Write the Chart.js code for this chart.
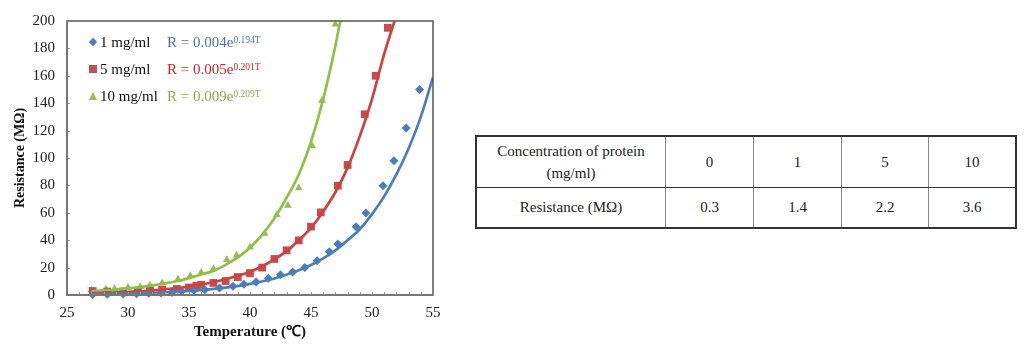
<!DOCTYPE html>
<html>
<head>
<meta charset="utf-8">
<script src="https://cdn.jsdelivr.net/npm/chart.js@4.4.1/dist/chart.umd.min.js"></script>
<style>
    body { margin: 0; background: #fff; width: 1024px; height: 349px; position: relative; overflow: hidden; font-family: "Liberation Serif", "Times New Roman", serif; }
    #chartBox { position: absolute; left: 0; top: 0; width: 450px; height: 349px; }
    .legendRow { position: absolute; left: 89px; height: 20px; line-height: 20px; font-size: 15px; color: #111; white-space: nowrap; }
    .legendRow .mk { position: absolute; left: 0; top: 6px; }
    .legendRow .lbl { position: absolute; left: 11px; top: 0; }
    .legendRow .eq { position: absolute; left: 78px; top: 0; font-size: 15px; }
    .legendRow .eq sup { font-size: 9.5px; vertical-align: 4px; line-height: 0; }
    .dia { width: 6px; height: 6px; background: #4a7ebb; transform: rotate(45deg); margin-left: 1px; margin-top: 1px; }
    .sq { width: 8px; height: 8px; background: #c0504d; }
    .tri { width: 0; height: 0; border-left: 4.5px solid transparent; border-right: 4.5px solid transparent; border-bottom: 8px solid #9bbb59; }
    #dataTable { position: absolute; left: 475px; top: 135px; border-collapse: collapse; font-size: 15px; color: #222; }
    #dataTable td { text-align: center; border: 1px solid #888; padding: 0; }
    #dataTable { border: 2px solid #333; }
    #dataTable tr.r1 td { height: 50px; line-height: 22px; border-bottom: 1.5px solid #333; }
    #dataTable tr.r2 td { height: 39px; }
</style>
</head>
<body>
<div id="chartBox">
    <canvas id="resChart" width="450" height="349"></canvas>
</div>

<div class="legendRow" style="top: 32px;"><div class="mk dia"></div><span class="lbl">1 mg/ml</span><span class="eq" style="color:#4f73a6;">R = 0.004e<sup>0.194T</sup></span></div>
<div class="legendRow" style="top: 59px;"><div class="mk sq"></div><span class="lbl">5 mg/ml</span><span class="eq" style="color:#cc2630;">R = 0.005e<sup>0.201T</sup></span></div>
<div class="legendRow" style="top: 86px;"><div class="mk tri"></div><span class="lbl">10 mg/ml</span><span class="eq" style="color:#93a550;">R = 0.009e<sup>0.209T</sup></span></div>

<table id="dataTable">
    <tr class="r1">
        <td style="width:188px;">Concentration of protein<br>(mg/ml)</td>
        <td style="width:87px;" id="c0"></td>
        <td style="width:87px;" id="c1"></td>
        <td style="width:86px;" id="c2"></td>
        <td style="width:86px;" id="c3"></td>
    </tr>
    <tr class="r2">
        <td>Resistance (MΩ)</td>
        <td id="v0"></td>
        <td id="v1"></td>
        <td id="v2"></td>
        <td id="v3"></td>
    </tr>
</table>

<script>
// measured points (temperature in °C, resistance in MΩ)
const tempBlue = [27.1, 28.3, 29.6, 30.7, 31.7, 32.7, 33.6, 34.4, 35.4, 36.3, 37.5, 38.6, 39.5, 40.5, 41.5, 42.5, 43.5, 44.5, 45.5, 46.5, 47.2, 48.7, 49.5, 50.9, 51.8, 52.8, 53.9];
const resBlue = [0.3, 0.5, 0.7, 0.9, 1.2, 1.5, 1.9, 2.7, 3.4, 3.9, 5.1, 6.3, 7.8, 9.5, 12.2, 14.8, 16.8, 20, 25, 31.6, 37.2, 49.9, 59.9, 79.8, 98, 121.9, 150];

const tempRed = [27.1, 28.3, 29.6, 30.8, 31.8, 32.8, 34.0, 35.0, 35.6, 36.0, 37.0, 38.0, 39.0, 40.0, 41.0, 42.0, 43.0, 44.0, 45.0, 45.8, 47.2, 48.0, 49.4, 50.3, 51.3];
const resRed = [2.9, 2.5, 2.6, 3.0, 3.4, 3.9, 4.4, 5.5, 6.8, 7.5, 8.8, 10.2, 13.1, 16.0, 20.0, 26.3, 32.6, 39.9, 49.9, 60.3, 79.8, 94.9, 131.9, 160, 195];

const tempGreen = [27.0, 28.2, 28.9, 30.0, 31.0, 31.8, 32.8, 34.1, 35.1, 36.0, 37.0, 38.1, 38.9, 40.0, 41.2, 42.2, 43.1, 44.0, 45.1, 45.9, 47.0];
const resGreen = [3.4, 4.2, 4.5, 5.4, 6.0, 7.1, 8.8, 11.5, 14.0, 16.5, 19.2, 25.8, 29, 34.8, 44.8, 58.6, 65.4, 78.1, 108.8, 142, 197.6];

// trend curves
const fitTempBlue = [27, 30, 33, 36, 38, 40, 42, 44, 45, 46, 47, 48, 49, 50, 51, 52, 53, 54, 55];
const fitResBlue = [0.6, 1.1, 2.0, 3.6, 5.4, 8.1, 12, 18, 21.9, 26.7, 32.6, 40, 48, 59, 72, 88, 107, 130, 159];

const fitTempRed = [27, 30, 33, 35, 37, 39, 40, 41, 42, 43, 44, 45, 46, 47, 48, 49, 50, 51, 51.85];
const fitResRed = [1.3, 2.3, 4.2, 6.2, 9.3, 14, 17, 21, 26, 32, 40, 49, 61, 75, 93, 116, 143, 176, 200];

const fitTempGreen = [27, 30, 32, 34, 36, 37, 38, 39, 40, 41, 42, 43, 44, 45, 46, 47, 47.4];
const fitResGreen = [2.7, 4.8, 7, 10, 15, 17.5, 22, 27.5, 34.5, 44, 56, 71, 88, 112, 143, 182, 200];

// table
const concentrations = ['0', '1', '5', '10'];
const resistances = ['0.3', '1.4', '2.2', '3.6'];

concentrations.forEach((c, i) => { document.getElementById('c' + i).textContent = c; });
resistances.forEach((r, i) => { document.getElementById('v' + i).textContent = r; });

const toPoints = (xs, ys) => xs.map((x, i) => ({ x: x, y: ys[i] }));

const blue = '#4a7ebb';
const red = '#c0504d';
const green = '#9bbb59';

// frame + small inside ticks like the original plot
const framePlugin = {
    id: 'frame',
    afterDraw(chart) {
        const { ctx, chartArea: a, scales } = chart;
        ctx.save();
        ctx.strokeStyle = '#999';
        ctx.lineWidth = 1;
        for (let t = 26; t < 55; t++) {
            const px = Math.round(scales.x.getPixelForValue(t)) + 0.5;
            ctx.beginPath();
            ctx.moveTo(px, a.bottom);
            ctx.lineTo(px, a.bottom - 3);
            ctx.stroke();
        }
        for (let v = 20; v < 200; v += 20) {
            const py = Math.round(scales.y.getPixelForValue(v)) + 0.5;
            ctx.beginPath();
            ctx.moveTo(a.left, py);
            ctx.lineTo(a.left + 3, py);
            ctx.stroke();
        }
        ctx.strokeStyle = '#555';
        ctx.lineWidth = 1.5;
        ctx.strokeRect(a.left, a.top, a.right - a.left, a.bottom - a.top);
        ctx.strokeStyle = '#777';
        ctx.lineWidth = 2;
        ctx.beginPath();
        ctx.moveTo(a.left, a.top);
        ctx.lineTo(a.left, a.bottom);
        ctx.lineTo(a.right, a.bottom);
        ctx.stroke();
        ctx.restore();
    }
};

new Chart(document.getElementById('resChart'), {
    type: 'scatter',
    data: {
        datasets: [
            { label: '1 mg/ml', data: toPoints(tempBlue, resBlue), pointStyle: 'rectRot', pointRadius: 4.5, backgroundColor: blue, borderColor: blue, borderWidth: 0, order: 2, clip: false },
            { label: '5 mg/ml', data: toPoints(tempRed, resRed), pointStyle: 'rect', pointRadius: 5.5, backgroundColor: red, borderColor: red, borderWidth: 0, order: 2, clip: false },
            { label: '10 mg/ml', data: toPoints(tempGreen, resGreen), pointStyle: 'triangle', pointRadius: 4.5, backgroundColor: green, borderColor: green, borderWidth: 0, order: 2, clip: false },
            { label: 'fit 1', data: toPoints(fitTempBlue, fitResBlue), showLine: true, pointRadius: 0, borderColor: blue, borderWidth: 2.7, cubicInterpolationMode: 'monotone', order: 1 },
            { label: 'fit 5', data: toPoints(fitTempRed, fitResRed), showLine: true, pointRadius: 0, borderColor: '#d04040', borderWidth: 2.7, cubicInterpolationMode: 'monotone', order: 1 },
            { label: 'fit 10', data: toPoints(fitTempGreen, fitResGreen), showLine: true, pointRadius: 0, borderColor: '#8fc046', borderWidth: 2.7, cubicInterpolationMode: 'monotone', order: 1 }
        ]
    },
    options: {
        responsive: false,
        animation: false,
        layout: { padding: { top: 21, right: 17, left: 0, bottom: 0 } },
        plugins: {
            legend: { display: false },
            tooltip: { enabled: false }
        },
        scales: {
            x: {
                type: 'linear',
                min: 25,
                max: 55,
                afterFit: s => { s.height = 54; },
                ticks: { stepSize: 5, color: '#222', padding: 9, font: { family: 'Liberation Serif', size: 15 } },
                grid: { display: false, drawTicks: false },
                border: { display: false },
                title: { display: true, text: 'Temperature (℃)', color: '#111', padding: { top: 0, bottom: 8 }, font: { family: 'Liberation Serif', size: 15, weight: 'bold' } }
            },
            y: {
                min: 0,
                max: 200,
                afterFit: s => { s.width = 67; },
                ticks: { stepSize: 20, color: '#222', padding: 12, font: { family: 'Liberation Serif', size: 15 } },
                grid: { display: false, drawTicks: false },
                border: { display: false },
                title: { display: true, text: 'Resistance (MΩ)', color: '#111', padding: { top: 12, bottom: 0 }, font: { family: 'Liberation Serif', size: 14, weight: 'bold' } }
            }
        }
    },
    plugins: [framePlugin]
});
</script>
</body>
</html>
